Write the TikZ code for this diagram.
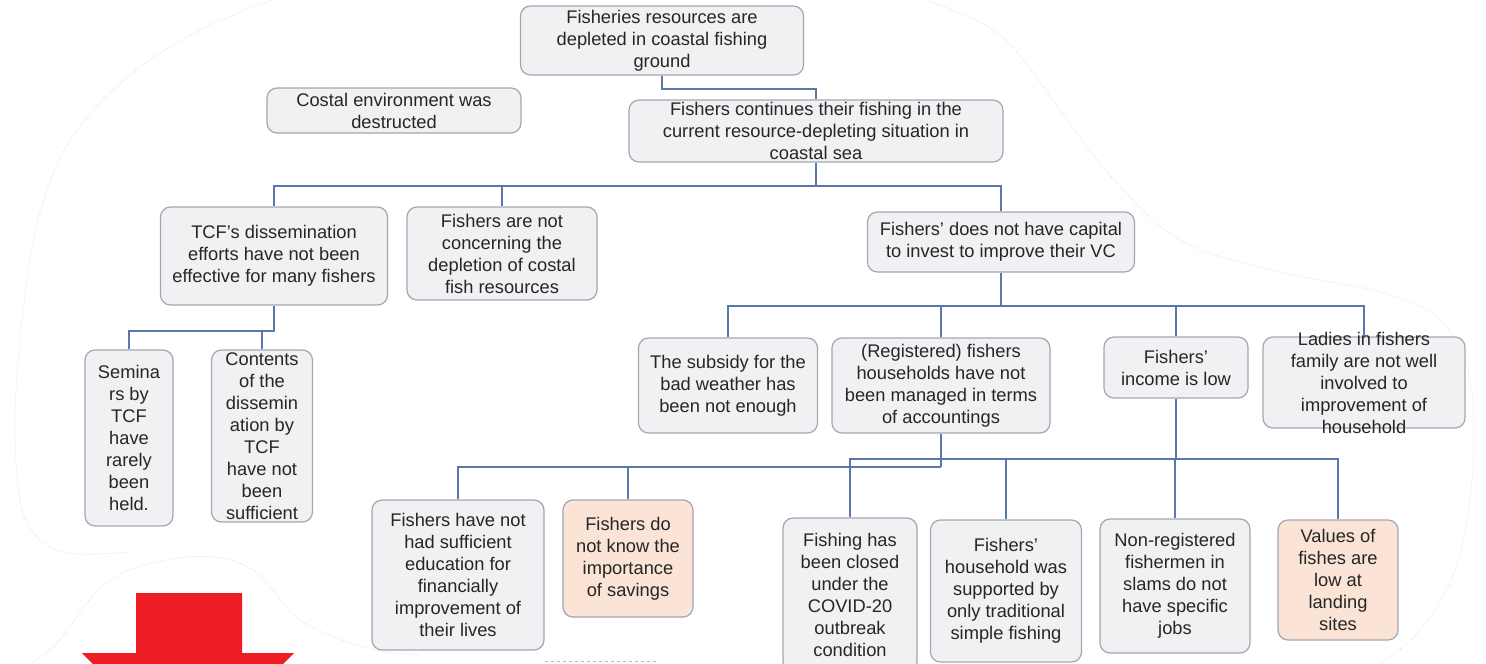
\documentclass[tikz,border=0pt]{standalone}
\usepackage{fontspec}
\setmainfont{Liberation Sans}
\definecolor{boxfill}{HTML}{F1F1F4}
\definecolor{boxline}{HTML}{A3A7B2}
\definecolor{peach}{HTML}{FBE3D6}
\definecolor{wire}{HTML}{5A79AB}
\definecolor{txt}{HTML}{262626}
\definecolor{arrowred}{HTML}{EE1D23}
\tikzset{
  box/.style={draw=boxline, fill=boxfill, rounded corners=10pt, line width=1.2pt,
    align=center, inner sep=0pt, text=txt, font=\fontsize{18.3}{22}\selectfont},
  warm/.style={box, fill=peach},
  wirepath/.style={draw=wire, line width=1.8pt},
  cloudline/.style={draw=gray!30, dotted, line width=0.8pt}
}
\begin{document}
\begin{tikzpicture}[x=1pt,y=-1pt]
\useasboundingbox (0,0) rectangle (1486,664);

% faint cloud outlines behind the chart
\draw[cloudline] plot[smooth, tension=0.6] coordinates {(272,0) (200,30) (130,75) (70,140) (38,220) (22,320) (15,420) (20,500) (35,535) (67,553) (130,552)};
\draw[cloudline] plot[smooth, tension=0.6] coordinates {(30,664) (57,643) (110,580) (187,557) (250,568) (300,620) (367,648) (420,655)};
\draw[cloudline] plot[smooth, tension=0.6] coordinates {(925,0) (1000,35) (1060,110) (1110,175) (1180,240) (1280,272) (1380,292) (1440,320) (1470,380) (1472,480) (1455,570) (1420,630) (1380,664)};
\draw[gray!55, dashed, line width=1pt] (545,661) -- (657,661);

% level 0-1
\node[box, minimum width=283pt, minimum height=69pt] (top) at (662,40.5)
  {Fisheries resources are\\depleted in coastal fishing\\ground};
\node[box, minimum width=254pt, minimum height=45pt] (env) at (394,110.5)
  {Costal environment was\\destructed};
\node[box, minimum width=374pt, minimum height=62pt] (cont) at (816,131)
  {Fishers continues their fishing in the\\current resource-depleting situation in\\coastal sea};

% level 2
\node[box, minimum width=227pt, minimum height=98pt] (tcf) at (274,256)
  {TCF's dissemination\\efforts have not been\\effective for many fishers};
\node[box, minimum width=190pt, minimum height=93pt] (aware) at (502,253.5)
  {Fishers are not\\concerning the\\depletion of costal\\fish resources};
\node[box, minimum width=267pt, minimum height=60pt] (capital) at (1001,242)
  {Fishers' does not have capital\\to invest to improve their VC};

% level 3 (left)
\node[box, minimum width=88pt, minimum height=176pt] (seminar) at (129,438)
  {Semina\\rs by\\TCF\\have\\rarely\\been\\held.};
\node[box, minimum width=101pt, minimum height=172pt] (content) at (262,436)
  {Contents\\of the\\dissemin\\ation by\\TCF\\have not\\been\\sufficient};

% level 3 (right)
\node[box, minimum width=179pt, minimum height=95pt] (subsidy) at (728,385.5)
  {The subsidy for the\\bad weather has\\been not enough};
\node[box, minimum width=218pt, minimum height=95pt] (regist) at (941,385.5)
  {(Registered) fishers\\households have not\\been managed in terms\\of accountings};
\node[box, minimum width=144pt, minimum height=61pt] (income) at (1176,367.5)
  {Fishers'\\income is low};
\node[box, minimum width=202pt, minimum height=91pt, inner ysep=-7pt] (ladies) at (1364,382.5)
  {Ladies in fishers\\family are not well\\involved to\\improvement of\\household};

% level 4
\node[box, minimum width=172pt, minimum height=150pt] (educ) at (458,575)
  {Fishers have not\\had sufficient\\education for\\financially\\improvement of\\their lives};
\node[warm, minimum width=130pt, minimum height=117pt] (saving) at (628,558.5)
  {Fishers do\\not know the\\importance\\of savings};
\node[box, minimum width=134pt, minimum height=154pt] (covid) at (850,595)
  {Fishing has\\been closed\\under the\\COVID-20\\outbreak\\condition};
\node[box, minimum width=151pt, minimum height=142pt] (tradit) at (1006,591)
  {Fishers'\\household was\\supported by\\only traditional\\simple fishing};
\node[box, minimum width=150pt, minimum height=134pt] (nonreg) at (1175,586)
  {Non-registered\\fishermen in\\slams do not\\have specific\\jobs};
\node[warm, minimum width=120pt, minimum height=120pt] (value) at (1338,580)
  {Values of\\fishes are\\low at\\landing\\sites};

% connectors
\draw[wirepath] (top.south) -- ++(0,13) -| (cont.north);

\draw[wirepath] (cont.south) -- ++(0,23) coordinate (b1);
\draw[wirepath] (tcf.north) |- (b1) -| (capital.north);
\draw[wirepath] (aware.north) -- (aware.north |- b1);

\draw[wirepath] (tcf.south) -- ++(0,25) coordinate (b2) -| (seminar.north);
\draw[wirepath] (content.north) -- (content.north |- b2);

\draw[wirepath] (capital.south) -- ++(0,33) coordinate (b3);
\draw[wirepath] (subsidy.north) |- (b3) -| (ladies.north);
\draw[wirepath] (regist.north) -- (regist.north |- b3);
\draw[wirepath] (income.north) -- (income.north |- b3);

\draw[wirepath] (regist.south) -- ++(0,33) coordinate (b4);
\draw[wirepath] (educ.north) |- (b4);
\draw[wirepath] (saving.north) -- (saving.north |- b4);

\draw[wirepath] (income.south) -- ++(0,60) coordinate (b5);
\draw[wirepath] (covid.north) |- (b5) -| (value.north);
\draw[wirepath] (tradit.north) -- (tradit.north |- b5);
\draw[wirepath] (nonreg.north) -- (nonreg.north |- b5);

% big red arrow pointing down
\begin{scope}
  \clip (0,0) rectangle (1486,664);
  \fill[arrowred] (136,593) -- (242,593) -- (242,653) -- (294,653) -- (188,759)
    -- (82,653) -- (136,653) -- cycle;
\end{scope}
\end{tikzpicture}
\end{document}
